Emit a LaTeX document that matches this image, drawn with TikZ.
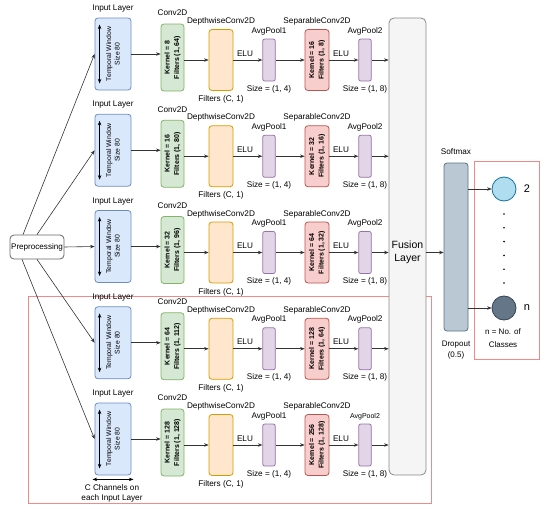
\documentclass[tikz,border=0pt]{standalone}
\usepackage{fontspec}
\setmainfont{Liberation Sans}
\usetikzlibrary{positioning,arrows.meta}

% draw.io like colours
\definecolor{inpfill}{HTML}{DAE8FC}
\definecolor{inpline}{HTML}{6C8EBF}
\definecolor{convfill}{HTML}{D5E8D4}
\definecolor{convline}{HTML}{82B366}
\definecolor{dwfill}{HTML}{FFE6CC}
\definecolor{dwline}{HTML}{D79B00}
\definecolor{poolfill}{HTML}{E1D5E7}
\definecolor{poolline}{HTML}{9673A6}
\definecolor{sepfill}{HTML}{F8CECC}
\definecolor{sepline}{HTML}{B85450}
\definecolor{fusefill}{HTML}{F5F5F5}
\definecolor{fuseline}{HTML}{888888}
\definecolor{dropfill}{HTML}{BAC8D3}
\definecolor{dropline}{HTML}{5A7385}
\definecolor{clsfill}{HTML}{B1DDF0}
\definecolor{clsline}{HTML}{10739E}
\definecolor{lastfill}{HTML}{647687}
\definecolor{lastline}{HTML}{314354}
\definecolor{groupred}{HTML}{F08A8A}

\begin{document}
\begin{tikzpicture}[
    x=1pt, y=-1pt,
    >={Stealth[length=4.5pt,width=3.5pt]},
    % Box styles
    box/.style={draw, rounded corners=3pt, line width=0.8pt, inner sep=0pt},
    inpbox/.style={box, fill=inpfill, draw=inpline, minimum width=36pt, minimum height=72pt},
    convbox/.style={box, fill=convfill, draw=convline, minimum width=23pt, minimum height=67pt},
    dwbox/.style={box, fill=dwfill, draw=dwline, minimum width=24pt, minimum height=61pt},
    poolbox/.style={box, rounded corners=2pt, fill=poolfill, draw=poolline, minimum width=12.5pt, minimum height=42pt},
    sepbox/.style={box, fill=sepfill, draw=sepline, minimum width=24pt, minimum height=61pt},
    clsnode/.style={circle, draw, line width=0.8pt, minimum size=24pt, inner sep=0pt},
    % Connector and text styles
    conn/.style={->, draw=black!80, line width=0.6pt},
    lbl/.style={font=\fontsize{8.2}{10}\selectfont, inner sep=1pt},
    rot/.style={rotate=90, align=center, inner sep=0pt}
]
\useasboundingbox (0,0) rectangle (550,514);

% Red groups (drawn first, the fusion box covers them)
\draw[groupred, line width=0.8pt] (28,296) rectangle (431,503);
\draw[groupred, line width=0.8pt] (474,161) rectangle (539,359);

% Fusion layer
\node[box, rounded corners=5pt, fill=fusefill, draw=fuseline, minimum width=37pt, minimum height=457pt] (fuse) at (407.5,246.5) {};
\node[font=\fontsize{10.5}{13}\selectfont, align=center, inner sep=0pt] (fusetxt) at ([yshift=-6pt]fuse.center) {Fusion\\Layer};

% One branch per row
\foreach \r/\ck/\cf/\sk/\sf/\pf in {1/8/64/16/8/8.2, 2/16/80/32/16/8.2, 3/32/96/64/32/8.2, 4/64/112/128/64/8.2, 5/128/128/256/128/7}{
    \pgfmathsetmacro{\y}{54+96.25*(\r-1)}
    % Boxes
    \node[inpbox] (inp\r) at (113,\y) {};
    \node[convbox] (conv\r) at (172.5,\y+3.5) {};
    \node[dwbox] (dw\r) at (221,\y+6) {};
    \node[poolbox] (pa\r) at (269,\y+6) {};
    \node[sepbox] (sep\r) at (317,\y+6) {};
    \node[poolbox] (pb\r) at (365,\y+6) {};
    % Texts in the boxes
    \node[rot, font=\fontsize{6.8}{8.5}\selectfont] (inptxt\r) at (inp\r) {Temporal Window\\Size 80};
    \node[rot, font=\bfseries\fontsize{7}{9.5}\selectfont] (convtxt\r) at (conv\r) {Kernel = \ck\\Filters (1, \cf)};
    \node[rot, font=\bfseries\fontsize{7}{9.5}\selectfont] (septxt\r) at (sep\r) {Kernel = \sk\\Filters (1, \sf)};
    \draw[<->, line width=0.6pt] ([xshift=5pt,yshift=-7pt]inp\r.north west) -- ([xshift=5pt,yshift=7pt]inp\r.south west);
    % Labels
    \node[lbl, above=4pt of inp\r] (inplbl\r) {Input Layer};
    \node[lbl, above=6.5pt of conv\r] (convlbl\r) {Conv2D};
    \node[lbl, above=2.5pt of dw\r] (dwlbl\r) {DepthwiseConv2D};
    \node[lbl, below=3.5pt of dw\r] (dwflt\r) {Filters (C, 1)};
    \node[lbl, above=2.5pt of pa\r] (palbl\r) {AvgPool1};
    \node[lbl, below=2.5pt of pa\r] (pasize\r) {Size = (1, 4)};
    \node[lbl, above=2.5pt of sep\r] (seplbl\r) {SeparableConv2D};
    \node[lbl, font=\fontsize{\pf}{10}\selectfont, above=2.5pt of pb\r] (pblbl\r) {AvgPool2};
    \node[lbl, below=2.5pt of pb\r] (pbsize\r) {Size = (1, 8)};
    % Connectors
    \draw[conn] (inp\r.east) -- (inp\r.east -| conv\r.west);
    \draw[conn] (conv\r.east |- dw\r.west) -- (dw\r.west);
    \draw[conn] (dw\r.east) -- node[lbl, pos=0.4, above=2.5pt] (elua\r) {ELU} (pa\r.west);
    \draw[conn] (pa\r.east) -- (sep\r.west);
    \draw[conn] (sep\r.east) -- node[lbl, pos=0.4, above=2.5pt] (elub\r) {ELU} (pb\r.west);
    \draw[conn] (pb\r.east) -- (pb\r.east -| fuse.west);
}

% Channels note under the last input
\draw[<->, line width=0.6pt] ([xshift=-2pt,yshift=-4pt]inp5.south west) -- ([xshift=2pt,yshift=-4pt]inp5.south east);
\node[lbl, align=center, font=\fontsize{8.2}{10}\selectfont] (chanlbl) at (112,493) {C Channels on\\each Input Layer};

% Preprocessing
\node[draw=black!60, line width=0.8pt, rounded corners=4pt, fill=white, minimum width=54pt, minimum height=24pt, inner sep=0pt, font=\fontsize{8.1}{10}\selectfont] (prep) at (37,247) {Preprocessing};
\draw[conn] ([xshift=-14pt]prep.north) -- (inp1.west);
\draw[conn] (prep.north) -- (inp2.west);
\draw[conn] (prep.east) -- (inp3.west);
\draw[conn] (prep.south) -- (inp4.west);
\draw[conn] ([xshift=-15pt]prep.south) -- (inp5.west);

% Dropout / softmax
\node[box, fill=dropfill, draw=dropline, minimum width=24pt, minimum height=168pt] (drop) at (456,247) {};
\node[lbl, above=7pt of drop] (softlbl) {Softmax};
\node[lbl, align=center, font=\fontsize{8}{11}\selectfont] (droplbl) at (456,350) {Dropout\\(0.5)};
\draw[conn] ([yshift=-6pt]fuse.east) -- ([yshift=-6pt]fuse.east -| drop.west);

% Output classes
\node[clsnode, fill=clsfill, draw=clsline] (c2) at (504,189) {};
\node[clsnode, fill=lastfill, draw=lastline] (cn) at (504,308) {};
\node[font=\fontsize{11}{13}\selectfont, inner sep=0pt] (c2lbl) at (527,189) {2};
\node[font=\fontsize{11}{13}\selectfont, inner sep=0pt] (cnlbl) at (527,308) {n};
\foreach \d in {0,...,5}
    \fill (504,214+13.8*\d) circle (0.9pt);
\draw[conn] (drop.east |- c2.west) -- (c2.west);
\draw[conn] (drop.east |- cn.west) -- (cn.west);
\node[lbl, align=center, font=\fontsize{8}{13.7}\selectfont] (clslbl) at (503,338) {n = No. of\\Classes};

\end{tikzpicture}
\end{document}
